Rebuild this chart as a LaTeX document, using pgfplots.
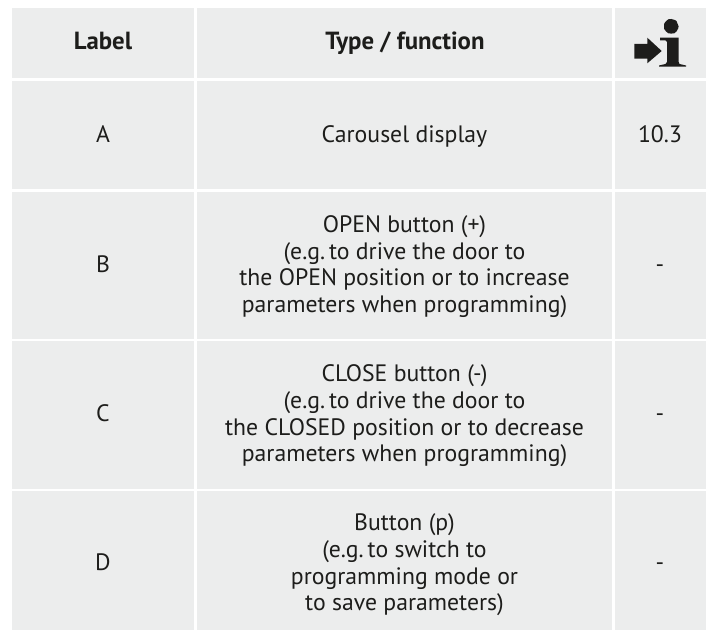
\documentclass[border=0pt]{standalone}
\usepackage{pgfplots}
\pgfplotsset{compat=1.18}
\usepackage{fontspec}
\setmainfont{PT Sans}
\definecolor{cellgrey}{HTML}{ECEDED}
\definecolor{ink}{HTML}{1D1D1B}
\newcommand{\bt}{\fontsize{17.8pt}{20pt}\selectfont}
\newcommand{\hdt}{\fontsize{18.6pt}{20pt}\selectfont}
\tikzset{
  cell/.style={fill=cellgrey, draw=none},
  ic/.style={fill=ink, draw=none},
  tx/.style={anchor=base, text=ink, inner sep=0pt, font=\bt},
  hd/.style={anchor=base, text=ink, inner sep=0pt, font=\hdt\bfseries},
}
\begin{document}
\begin{tikzpicture}
\begin{axis}[
  scale only axis, width=531pt, height=472.5pt,
  xmin=0, xmax=708, ymin=0, ymax=630, y dir=reverse,
  hide axis, clip=false,
]
\addplot[fill=white, draw=none] coordinates {(0,0)(708,0)(708,630)(0,630)} --cycle;
% header row
\addplot[cell] coordinates {(12,8)(194,8)(194,78)(12,78)} --cycle;
\addplot[cell] coordinates {(197,8)(612,8)(612,78)(197,78)} --cycle;
\addplot[cell] coordinates {(615,8)(706,8)(706,78)(615,78)} --cycle;
% A
\addplot[cell] coordinates {(12,81)(194,81)(194,189.5)(12,189.5)} --cycle;
\addplot[cell] coordinates {(197,81)(612,81)(612,189.5)(197,189.5)} --cycle;
\addplot[cell] coordinates {(615,81)(706,81)(706,189.5)(615,189.5)} --cycle;
% B
\addplot[cell] coordinates {(12,192)(194,192)(194,339)(12,339)} --cycle;
\addplot[cell] coordinates {(197,192)(612,192)(612,339)(197,339)} --cycle;
\addplot[cell] coordinates {(615,192)(706,192)(706,339)(615,339)} --cycle;
% C
\addplot[cell] coordinates {(12,341)(194,341)(194,489)(12,489)} --cycle;
\addplot[cell] coordinates {(197,341)(612,341)(612,489)(197,489)} --cycle;
\addplot[cell] coordinates {(615,341)(706,341)(706,489)(615,489)} --cycle;
% D
\addplot[cell] coordinates {(12,491)(194,491)(194,630)(12,630)} --cycle;
\addplot[cell] coordinates {(197,491)(612,491)(612,630)(197,630)} --cycle;
\addplot[cell] coordinates {(615,491)(706,491)(706,630)(615,630)} --cycle;
% icon
\addplot[ic] coordinates {(634.3,44)(647.3,44)(647.3,37.7)(661.7,51)(647.3,63.3)(647.3,58.7)(634.3,58.7)} --cycle;
\addplot[ic] coordinates {(660,37.7)(678.7,37.7)(678.7,62)(679.5,64)(686,65.5)(686,66.7)(659,66.7)(659,65.5)(665.5,64)(667,62)(667,42)(665.5,40.5)(660,40.5)} --cycle;
\addplot[ic, smooth, tension=1] coordinates {(678.6,26.3)(676.5,31.5)(671.3,33.6)(666.1,31.5)(664,26.3)(666.1,21.1)(671.3,19)(676.5,21.1)} --cycle;
% header text
\node[hd] at (axis cs:103,50) {Label};
\node[hd] at (axis cs:405,50) {Type / function};
% row A
\node[tx] at (axis cs:103,142.5) {A};
\node[tx] at (axis cs:404.5,142.5) {Carousel display};
\node[tx] at (axis cs:660,142.5) {10.3};
% row B
\node[tx] at (axis cs:103,272.5) {B};
\node[tx] at (axis cs:404.5,232.7) {OPEN button (+)};
\node[tx] at (axis cs:404.5,259.3) {(e.g.\,to drive the door to};
\node[tx] at (axis cs:404.5,286) {the OPEN position or to increase};
\node[tx] at (axis cs:404.5,312.7) {parameters when programming)};
\node[tx] at (axis cs:660,272.5) {-};
% row C
\node[tx] at (axis cs:103,421.5) {C};
\node[tx] at (axis cs:404.5,382) {CLOSE button (-)};
\node[tx] at (axis cs:404.5,408.6) {(e.g.\,to drive the door to};
\node[tx] at (axis cs:404.5,435.3) {the CLOSED position or to decrease};
\node[tx] at (axis cs:404.5,462) {parameters when programming)};
\node[tx] at (axis cs:660,421.5) {-};
% row D
\node[tx] at (axis cs:103,570.5) {D};
\node[tx] at (axis cs:404.5,531) {Button (p)};
\node[tx] at (axis cs:404.5,557.6) {(e.g.\,to switch to};
\node[tx] at (axis cs:404.5,584.3) {programming mode or};
\node[tx] at (axis cs:404.5,611) {to save parameters)};
\node[tx] at (axis cs:660,570.5) {-};
\end{axis}
\end{tikzpicture}
\end{document}
